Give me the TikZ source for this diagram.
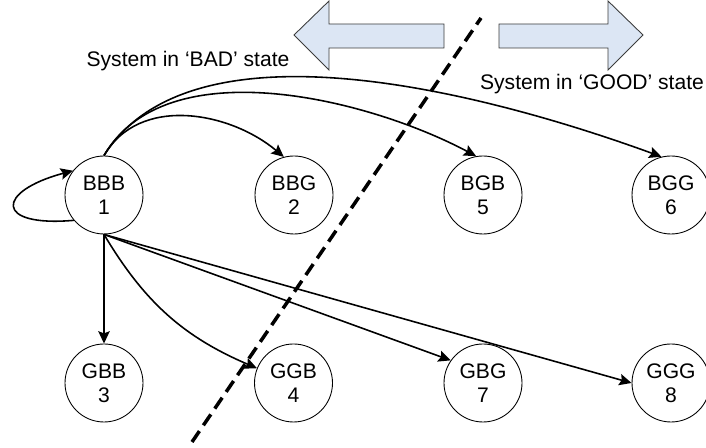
\documentclass[tikz,border=0pt]{standalone}
\usepackage{fontspec}
\setmainfont{Liberation Sans}
\usetikzlibrary{arrows.meta}

\definecolor{arrowblue}{RGB}{220,230,244}
\definecolor{arrowline}{RGB}{60,60,60}

\tikzset{
  state/.style={circle,draw,line width=0.5pt,minimum size=1.56cm,inner sep=0pt,
    align=center,font=\fontsize{12}{13.5}\selectfont},
  trans/.style={-{Stealth[length=7pt,width=6.5pt,inset=1.2pt]},line width=0.9pt},
  blockarrow/.style={draw=arrowline,fill=arrowblue,line width=0.5pt},
  border/.style={line width=2pt,dash pattern=on 7.5pt off 4pt},
  caption/.style={font=\fontsize{12}{14}\selectfont}
}

\begin{document}
\begin{tikzpicture}
\useasboundingbox (0,0) rectangle (14.12,8.96);

\path[blockarrow] (5.88,8.26) -- (6.58,8.94) -- (6.58,8.48) -- (8.88,8.48)
  -- (8.88,8.00) -- (6.58,8.00) -- (6.58,7.56) -- cycle;
\path[blockarrow] (12.86,8.26) -- (12.16,8.94) -- (12.16,8.48) -- (9.98,8.48)
  -- (9.98,8.00) -- (12.16,8.00) -- (12.16,7.56) -- cycle;

\node[caption] (badtext) at (3.76,7.74) {System in ‘BAD’ state};
\node[caption] (goodtext) at (11.84,7.28) {System in ‘GOOD’ state};

\draw[border] (3.84,0.12) -- (9.62,8.60);

\node[state] (bbb) at (2.08,5.06) {BBB\\1};
\node[state] (bbg) at (5.88,5.06) {BBG\\2};
\node[state] (bgb) at (9.66,5.06) {BGB\\5};
\node[state] (bgg) at (13.42,5.06) {BGG\\6};
\node[state] (gbb) at (2.08,1.30) {GBB\\3};
\node[state] (ggb) at (5.87,1.30) {GGB\\4};
\node[state] (gbg) at (9.66,1.30) {GBG\\7};
\node[state] (ggg) at (13.42,1.30) {GGG\\8};

\draw[trans] (bbb.220) .. controls +(185:1.6) and +(195:1.6) .. (bbb.142);
\draw[trans] (bbb.north) to[out=60,in=140] (bbg.105);
\draw[trans] (bbb.north) to[out=60,in=152,looseness=0.85] (bgb.100);
\draw[trans] (bbb.north) to[out=58,in=160,looseness=0.78] (bgg.104);
\draw[trans] (bbb.south) -- (gbb.north);
\draw[trans] (bbb.south) to[bend right=18] (ggb.158);
\draw[trans] (bbb.south) -- (gbg.145);
\draw[trans] (bbb.south) -- (ggg.west);
\end{tikzpicture}
\end{document}
